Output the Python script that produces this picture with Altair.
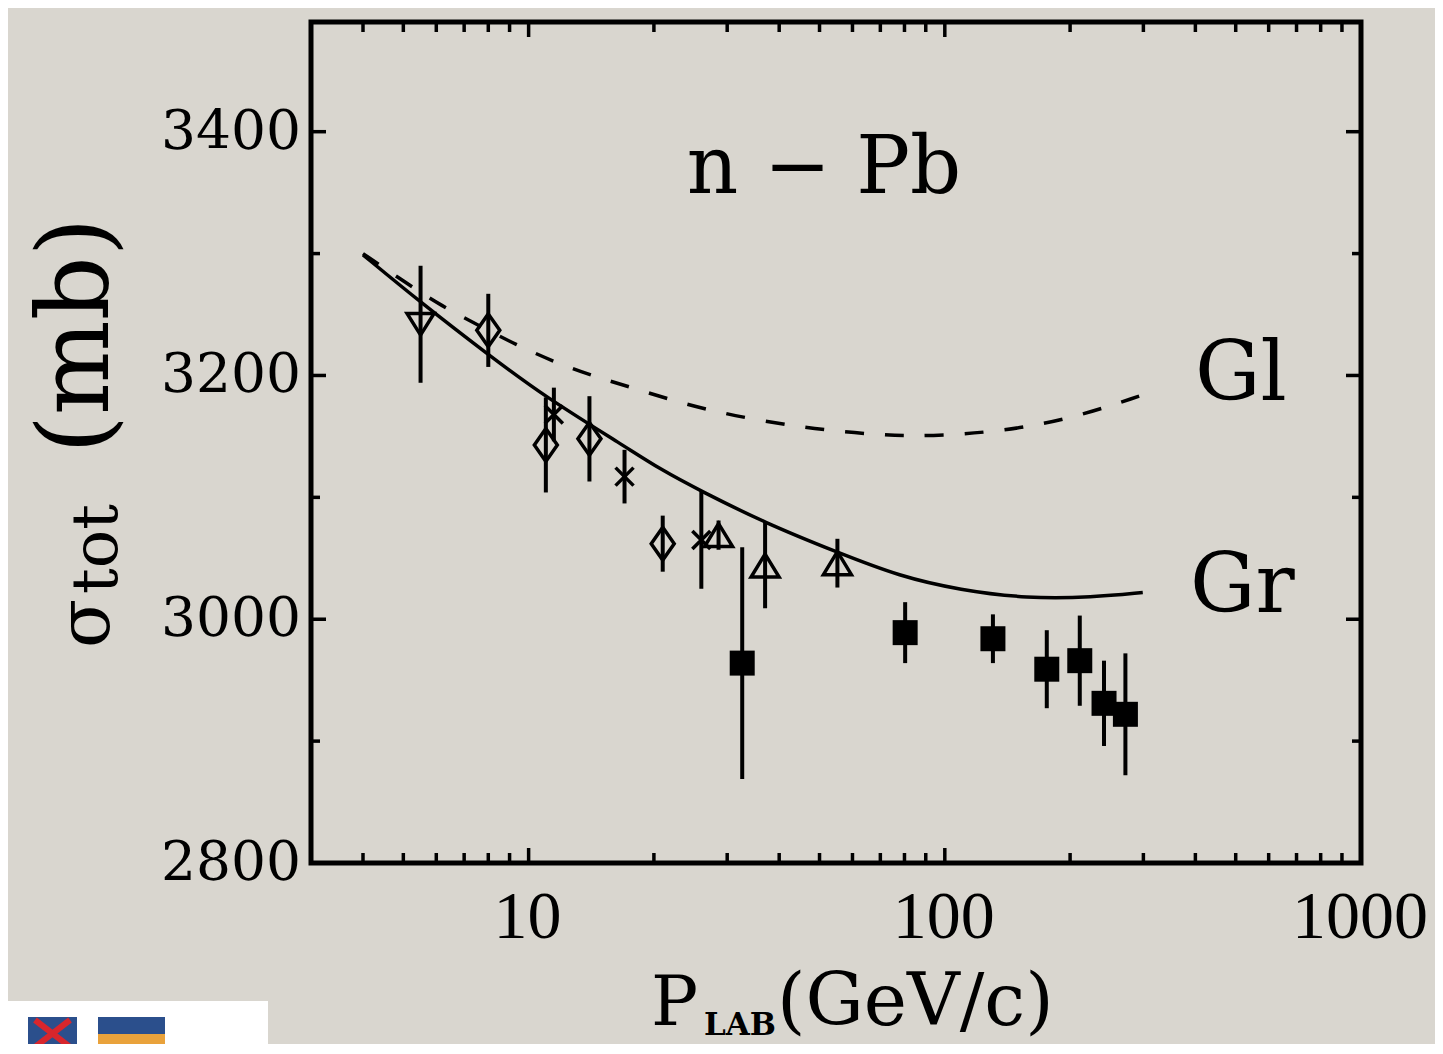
import altair as alt
import pandas as pd

# ---------------- data ----------------
kind = ["tri_down", "diamond", "diamond", "cross", "diamond", "cross", "diamond", "cross",
        "tri_up", "square", "tri_up", "tri_up", "square", "square", "square", "square",
        "square", "square"]
p_lab = [5.5, 8.0, 11.0, 11.5, 14.0, 17.0, 21.0, 26.0, 28.6, 32.6, 37.0, 55.2, 80.3,
         130.5, 175.8, 211.0, 241.3, 271.6]
sigma = [3242, 3237, 3143, 3168, 3148, 3117, 3062, 3065, 3069, 2964, 3044, 3046, 2989,
         2984, 2959, 2966, 2931, 2922]
err = [48, 30, 39, 22, 35, 22, 23, 40, 12, 95, 35, 20, 25, 20, 32, 37, 35, 50]

gr_p = [4.0, 5.5, 8.0, 11.0, 17.0, 20.7, 26.0, 37.0, 55.1, 78.1, 108.8, 157.4, 226.8, 299.0]
gr_s = [3299, 3260, 3217, 3182, 3142, 3123, 3105, 3079, 3055, 3035, 3024, 3017, 3018, 3022]

gl_p = [4.0, 5.07, 6.18, 7.59, 9.36, 11.54, 14.4, 17.8, 25.9, 44.9, 69.9, 92.2, 135.7, 199.7, 299.0]
gl_s = [3300, 3276, 3257, 3241, 3225, 3211, 3199, 3190, 3172, 3157, 3151, 3150, 3154, 3164, 3184]

x_major = [10, 100, 1000]
x_labels = ["10", "100", "1000"]
x_minor = [4, 5, 6, 7, 8, 9, 20, 30, 40, 50, 60, 70, 80, 90,
           200, 300, 400, 500, 600, 700, 800, 900]
y_major = [2800, 3000, 3200, 3400]
y_labels = ["2800", "3000", "3200", "3400"]
y_minor = [2900, 3100, 3300]

title_text = ["n − Pb"]
gl_text = ["Gl"]
gr_text = ["Gr"]
ytitle_main = ["σ"]
ytitle_sub = ["tot"]
ytitle_unit = ["(mb)"]
xtitle_main = ["P"]
xtitle_sub = ["LAB"]
xtitle_unit = ["(GeV/c)"]

# ---------------- chart ----------------
W, H = 1050, 841
BG = "#d9d6cf"
xs = alt.Scale(type="log", domain=[3, 1000], nice=False)
ys = alt.Scale(domain=[2800, 3490], nice=False, zero=False)

pts = pd.DataFrame({"p": p_lab, "s": sigma, "e": err, "k": kind})
pts["lo"] = pts["s"] - pts["e"]
pts["hi"] = pts["s"] + pts["e"]

X = lambda f: alt.X(f, scale=xs, axis=None)
Y = lambda f: alt.Y(f, scale=ys, axis=None)

errbars = alt.Chart(pts).mark_rule(color="black", strokeWidth=4).encode(
    x=X("p:Q"), y=Y("lo:Q"), y2="hi:Q")

gr_df = pd.DataFrame({"p": gr_p, "s": gr_s})
gl_df = pd.DataFrame({"p": gl_p, "s": gl_s})

gr_line = alt.Chart(gr_df).mark_line(color="black", strokeWidth=3.5, interpolate="basis").encode(
    x=X("p:Q"), y=Y("s:Q"))
gl_line = alt.Chart(gl_df).mark_line(color="black", strokeWidth=3.5, interpolate="basis",
                                     strokeDash=[19, 21]).encode(x=X("p:Q"), y=Y("s:Q"))

shapes = {
    "tri_down": ("M-1,-0.8L1,-0.8L0,0.8Z", 729, False),
    "tri_up": ("M0,-0.82L1,0.82L-1,0.82Z", 784, False),
    "diamond": ("M0,-1.43L1,0L0,1.43L-1,0Z", 529, False),
    "cross": ("M-1,-1L1,1M-1,1L1,-1", 324, False),
    "square": ("square", 625, True),
}
marker_layers = []
for k, (shape, size, filled) in shapes.items():
    base = alt.Chart(pts).transform_filter(alt.datum.k == k)
    if filled:
        m = base.mark_point(shape=shape, size=size, filled=True, color="black", opacity=1)
    else:
        m = base.mark_point(shape=shape, size=size, filled=False, color="black",
                            strokeWidth=3.5, opacity=1)
    marker_layers.append(m.encode(x=X("p:Q"), y=Y("s:Q")))


def xticks(vals, length):
    df = pd.DataFrame({"v": vals})
    bottom = alt.Chart(df).mark_rule(color="black", strokeWidth=3.5).encode(
        x=X("v:Q"), y=alt.value(H), y2=alt.value(H - length))
    top = alt.Chart(df).mark_rule(color="black", strokeWidth=3.5).encode(
        x=X("v:Q"), y=alt.value(0), y2=alt.value(length))
    return [bottom, top]


def yticks(vals, length):
    df = pd.DataFrame({"v": vals})
    left = alt.Chart(df).mark_rule(color="black", strokeWidth=3.5).encode(
        y=Y("v:Q"), x=alt.value(0), x2=alt.value(length))
    right = alt.Chart(df).mark_rule(color="black", strokeWidth=3.5).encode(
        y=Y("v:Q"), x=alt.value(W), x2=alt.value(W - length))
    return [left, right]


tick_layers = xticks(x_major, 15) + xticks(x_minor, 10) + yticks(y_major, 15) + yticks(y_minor, 9)

# tick labels
xlab = alt.Chart(pd.DataFrame({"v": x_major, "t": x_labels})).mark_text(
    font="Liberation Serif", fontSize=68, color="black", align="center", baseline="alphabetic",
    dx=-1).encode(x=X("v:Q"), y=alt.value(H + 75), text="t:N")
ylab = alt.Chart(pd.DataFrame({"v": y_major, "t": y_labels})).mark_text(
    font="DejaVu Serif", fontSize=55, color="black", align="right",
    baseline="middle", dx=-10).encode(y=Y("v:Q"), x=alt.value(0), text="t:N")


def txt(vals, x, y, size, font="DejaVu Serif", align="left", angle=0, weight="normal"):
    df = pd.DataFrame({"t": vals})
    return alt.Chart(df).mark_text(align=align, baseline="alphabetic", font=font, fontSize=size,
                                   angle=angle, fontWeight=weight, color="black").encode(
        x=alt.value(x), y=alt.value(y), text="t:N")


text_layers = [
    txt(title_text, 513, 171, 80, align="center"),
    txt(gl_text, 884, 378, 82),
    txt(gr_text, 879, 590, 82),
    txt(ytitle_main, -202, 626, 72, angle=270),
    txt(ytitle_sub, -194, 572, 64, angle=270),
    txt(ytitle_unit, -203, 432, 100, angle=270),
    txt(xtitle_main, 340, 1003, 70),
    txt(xtitle_sub, 393, 1013, 31, weight="bold"),
    txt(xtitle_unit, 466, 1003, 73),
]

# small logo box at the bottom-left corner
logo_df = pd.DataFrame({"a": [0]})
logo = [
    alt.Chart(logo_df).mark_rect(color="white").encode(
        x=alt.value(-303), x2=alt.value(-43), y=alt.value(979), y2=alt.value(1040)),
    alt.Chart(logo_df).mark_rect(color="#2b4f8c").encode(
        x=alt.value(-283), x2=alt.value(-234), y=alt.value(995), y2=alt.value(1040)),
    alt.Chart(logo_df).mark_rule(color="#d8262c", strokeWidth=6).encode(
        x=alt.value(-276), x2=alt.value(-241), y=alt.value(998), y2=alt.value(1025)),
    alt.Chart(logo_df).mark_rule(color="#d8262c", strokeWidth=6).encode(
        x=alt.value(-241), x2=alt.value(-276), y=alt.value(998), y2=alt.value(1025)),
    alt.Chart(logo_df).mark_rect(color="#2b4f8c").encode(
        x=alt.value(-213), x2=alt.value(-146), y=alt.value(995), y2=alt.value(1012)),
    alt.Chart(logo_df).mark_rect(color="#e9a23b").encode(
        x=alt.value(-213), x2=alt.value(-146), y=alt.value(1012), y2=alt.value(1040)),
]

chart = alt.layer(errbars, gr_line, gl_line, *marker_layers, *tick_layers, xlab, ylab,
                  *text_layers, *logo).properties(
    width=W, height=H,
    autosize=alt.AutoSizeParams(type="none"),
    padding={"left": 303, "top": 14, "right": 74, "bottom": 181},
    background=BG,
).configure_view(stroke="black", strokeWidth=5)

chart.save("out.html", embed_options={"renderer": "svg", "actions": False})
